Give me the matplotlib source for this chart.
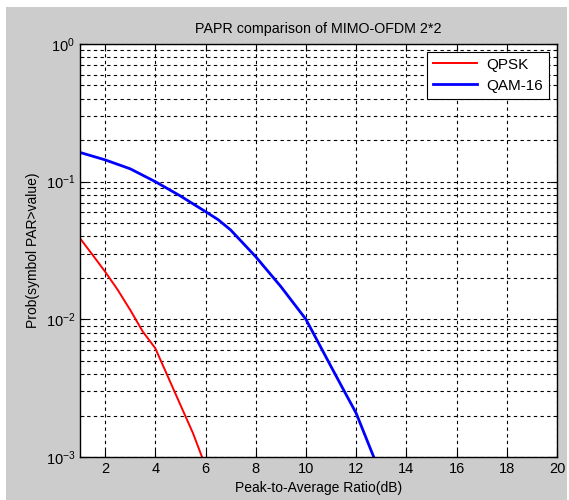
import matplotlib
matplotlib.use("Agg")
import matplotlib.pyplot as plt
import numpy as np
from matplotlib.patches import Rectangle
from matplotlib.ticker import LogLocator, NullFormatter

plt.rcParams['font.family'] = ['Liberation Sans', 'DejaVu Sans']

# values
qpsk_x = [1, 1.5, 2, 2.5, 3, 3.5, 4, 4.5, 5, 5.5, 5.86, 6.1]
qpsk_y = [0.0388, 0.0294, 0.0222, 0.0164, 0.0117, 0.00815, 0.00616, 0.00384,
          0.00239, 0.00149, 0.0010, 0.00078]

qam_x = [1, 2, 3, 4, 5, 6, 6.5, 7, 8, 9, 10, 11, 11.5, 12, 12.7, 13]
qam_y = [0.163, 0.144, 0.124, 0.100, 0.0787, 0.0606, 0.053, 0.0446, 0.0285,
         0.0173, 0.0100, 0.00454, 0.00307, 0.00208, 0.0010, 0.00075]

xticks = [2, 4, 6, 8, 10, 12, 14, 16, 18, 20]

fig = plt.figure(figsize=(5.69, 5.0), dpi=100)
fig.patch.set_facecolor('white')
fig.patches.append(Rectangle((6/569, 0), 561/569, 493/500, transform=fig.transFigure,
                             facecolor='#cccccc', edgecolor='none', zorder=-10))

ax = fig.add_axes([80/569, 43/500, 477/569, 413/500])
ax.set_facecolor('white')

ax.plot(qpsk_x, qpsk_y, color='red', lw=1.4, label='QPSK')
ax.plot(qam_x, qam_y, color='blue', lw=2.0, label='QAM-16')

ax.set_yscale('log')
ax.set_xlim(1, 20)
ax.set_ylim(1e-3, 1)
ax.set_xticks(xticks)
ax.yaxis.set_minor_locator(LogLocator(base=10, subs=np.arange(2, 10), numticks=20))
ax.yaxis.set_minor_formatter(NullFormatter())

ax.grid(True, which='major', axis='both', color='black', linestyle=(0, (3, 3)), lw=0.8)
ax.grid(True, which='minor', axis='y', color='black', linestyle=(0, (3, 3)), lw=0.8)

ax.tick_params(which='both', direction='in', top=True, right=True, labelsize=10.5)
ax.tick_params(which='major', length=5)
ax.tick_params(which='minor', length=3)
for s in ax.spines.values():
    s.set_linewidth(1.0)

ax.set_title('PAPR comparison of MIMO-OFDM 2*2', fontsize=10.3, pad=8)
ax.set_xlabel('Peak-to-Average Ratio(dB)', fontsize=10, labelpad=4)
ax.set_ylabel('Prob(symbol PAR>value)', fontsize=10, labelpad=4)

leg = ax.legend(loc='upper right', fontsize=11, fancybox=False, framealpha=1,
                edgecolor='black', handlelength=2.9, handletextpad=0.6,
                labelspacing=0.45, borderaxespad=0.5)
leg.get_frame().set_linewidth(0.8)

fig.savefig('out.png', dpi=100, facecolor=fig.get_facecolor())
